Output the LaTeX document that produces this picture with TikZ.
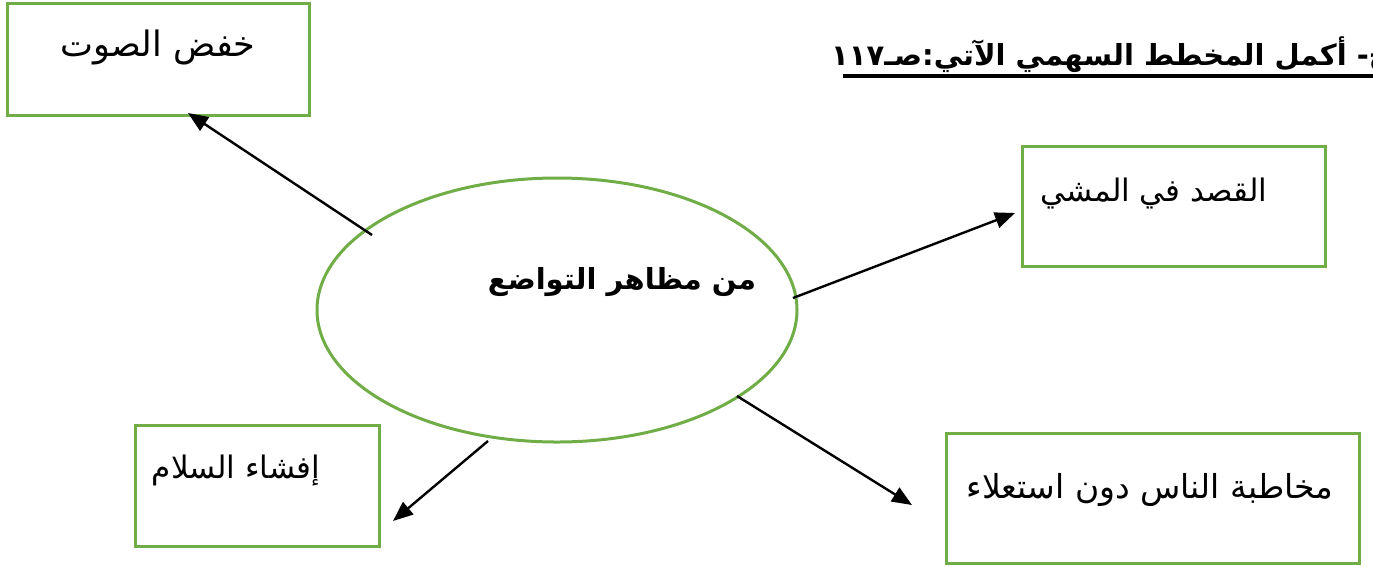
\documentclass[tikz,border=0pt]{standalone}
\usepackage{fontspec}
\usetikzlibrary{arrows.meta,shapes.geometric}
\TeXXeTstate=1
\newfontfamily\arabicfont[Script=Arabic]{DejaVu Sans}
\definecolor{boxgreen}{RGB}{112,173,71}
\tikzset{
  box/.style={draw=boxgreen,line width=3pt,inner sep=0pt},
  lbl/.style={font=\arabicfont\fontsize{32}{36}\selectfont,inner sep=0pt},
  boldlbl/.style={font=\arabicfont\bfseries\fontsize{29}{33}\selectfont,inner sep=0pt},
  arr/.style={line width=2.4pt,-{Triangle[length=20pt,width=16pt]}},
}
\begin{document}
\begin{tikzpicture}[x=1pt,y=-1pt]
\useasboundingbox (0,0) rectangle (1373,566);
% boxes
\node[box,minimum width=302pt,minimum height=112pt] (b1) at (158,59) {};
\node[box,minimum width=303pt,minimum height=120pt] (b2) at (1173.5,206) {};
\node[box,minimum width=244pt,minimum height=121pt] (b3) at (257,485.5) {};
\node[box,minimum width=413pt,minimum height=130pt] (b4) at (1153,498) {};
% ellipse
\node[box,ellipse,minimum width=480pt,minimum height=264pt] (e) at (557,310) {};
% texts
\node[lbl,font=\arabicfont\fontsize{35}{40}\selectfont] (t1) at (158,47) {\beginR خفض الصوت\endR};
\node[lbl,font=\arabicfont\fontsize{31}{36}\selectfont] (t2) at (1154,193) {\beginR القصد في المشي\endR};
\node[lbl,font=\arabicfont\fontsize{31}{36}\selectfont] (t3) at (236,470) {\beginR إفشاء السلام\endR};
\node[lbl,font=\arabicfont\fontsize{33}{38}\selectfont] (t4) at (1150,490) {\beginR مخاطبة الناس دون استعلاء\endR};
\node[boldlbl] (te) at (622,282) {\beginR من مظاهر التواضع\endR};
\node[boldlbl,anchor=base east] (title) at (1390,65) {\beginR ج- أكمل المخطط السهمي الآتي:صـ\beginL ١١٧\endL\endR};
\coordinate (ul1) at (843,76);
\coordinate (ul2) at (1373,76);
\draw[line width=4pt] (ul1) -- (ul2);
% arrows
\coordinate (a1s) at (372,235); \coordinate (a1e) at (188,113);
\coordinate (a2s) at (793,298); \coordinate (a2e) at (1015,213);
\coordinate (a3s) at (488,441); \coordinate (a3e) at (393,521);
\coordinate (a4s) at (737,396); \coordinate (a4e) at (912,505);
\draw[arr] (a1s) -- (a1e);
\draw[arr] (a2s) -- (a2e);
\draw[arr] (a3s) -- (a3e);
\draw[arr] (a4s) -- (a4e);
\end{tikzpicture}
\end{document}
